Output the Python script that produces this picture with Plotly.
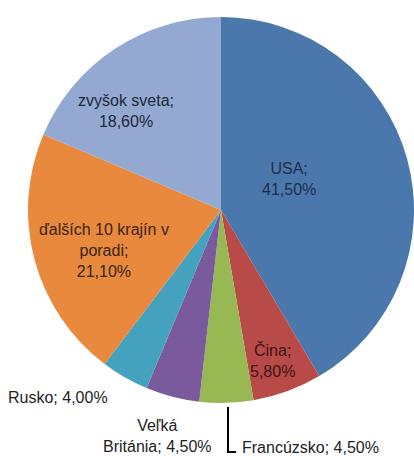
import plotly.graph_objects as go

labels = ["USA", "Čina", "Francúzsko", "Veľká Británia", "Rusko", "ďalších 10 krajín v poradi", "zvyšok sveta"]
values = [41.5, 5.8, 4.5, 4.5, 4.0, 21.1, 18.6]
colors = ["#4A78AC", "#B84A47", "#97B853", "#7A5A9C", "#45A2BF", "#E8893E", "#93A9D2"]

def pct(v):
    return f"{v:.2f}".replace(".", ",") + "%"

W, H = 414, 456
fig = go.Figure(go.Pie(
    labels=labels, values=values, sort=False, direction="clockwise", rotation=0,
    marker=dict(colors=colors, line=dict(width=0)),
    textinfo="none", hoverinfo="label+value", showlegend=False,
    domain=dict(x=[28 / W, 1.0], y=[(H - 403) / H, (H - 17) / H]),
))

font = dict(family="Liberation Sans, Arial, sans-serif", size=16)

def ann(text, x, y, color, xanchor="center"):
    fig.add_annotation(text=text, x=x / W, y=1 - y / H, xref="paper", yref="paper",
                       showarrow=False, xanchor=xanchor, yanchor="middle",
                       font=dict(color=color, **font), align="center")

ann(f"{labels[0]};<br>{pct(values[0])}", 289, 179, "#1F2D4D")
ann(f"{labels[1]};<br>{pct(values[1])}", 272, 360, "#3E1414")
ann(f"{labels[6]};<br>{pct(values[6])}", 126, 111, "#22283A")
ann("ďalších 10 krajín v<br>poradi;<br>" + pct(values[5]), 104, 250, "#3A2410")
ann(f"{labels[4]}; {pct(values[4])}", 6, 397, "#222222", xanchor="left")
ann("Veľká<br>Británia; " + pct(values[3]), 157, 436, "#222222")
ann(f"{labels[2]}; {pct(values[2])}", 240, 447, "#222222", xanchor="left")

fig.add_shape(type="path", xref="paper", yref="paper",
              path=f"M {228/W} {1-407/H} L {228/W} {1-452/H} L {236/W} {1-452/H}",
              line=dict(color="black", width=2))

fig.update_layout(width=W, height=H, margin=dict(l=0, r=0, t=0, b=0),
                  paper_bgcolor="white", plot_bgcolor="white", separators=", ")
fig.write_html("out.html", config={"displayModeBar": False},
               post_script="document.body.style.margin='0';document.body.style.overflow='hidden';")
